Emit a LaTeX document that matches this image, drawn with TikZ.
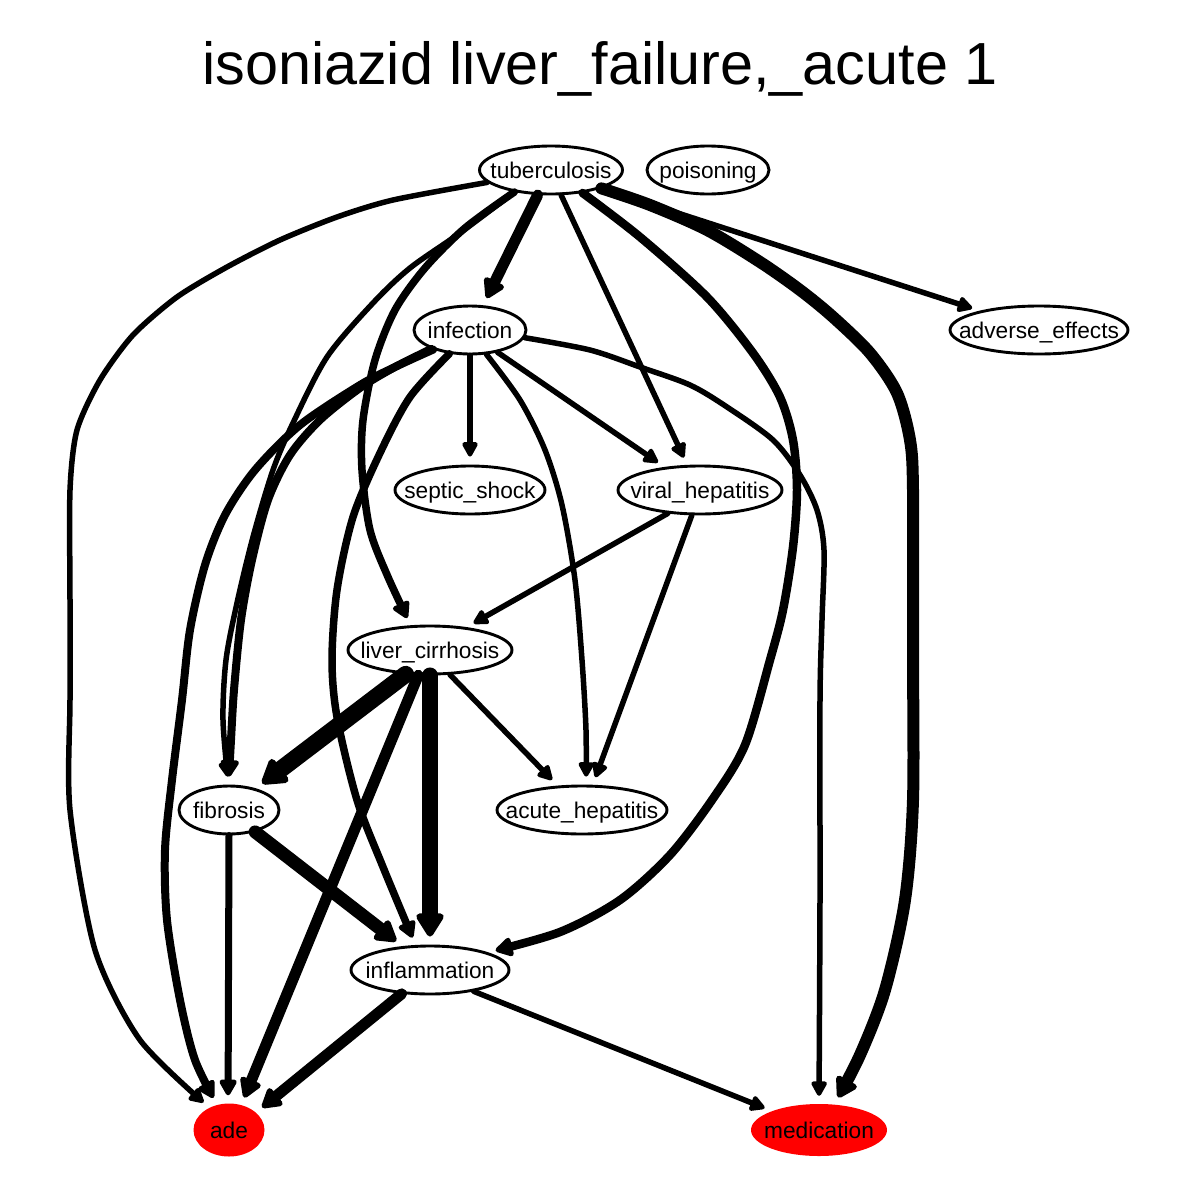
\documentclass[tikz,border=0pt]{standalone}
\usepackage{fontspec}
\setmainfont{Liberation Sans}
\usetikzlibrary{arrows.meta,shapes.geometric}
\begin{document}
\begin{tikzpicture}[x=1pt,y=-1pt,
  nd/.style={ellipse,draw,line width=2.9pt,inner sep=0pt,text height=18pt,text depth=2pt,
    font=\fontsize{22.7}{27}\selectfont},
  rednd/.style={ellipse,fill=red,inner sep=0pt,text height=18pt,text depth=2pt,
    font=\fontsize{22.7}{27}\selectfont},
  ed/.style={line width=#1,line cap=round,line join=round,shorten >=8pt,
    -{Triangle[length=12pt 0.9,width=10pt 1.3,round]}}]
\useasboundingbox[fill=white] (0,0) rectangle (1200,1200);
\node[font=\fontsize{59.4}{70}\selectfont,anchor=base,inner sep=0pt] (title) at (600,84) {isoniazid liver\_failure,\_acute 1};

\node[nd,minimum width=143pt,minimum height=48pt] (tub) at (551,170) {\makebox[0pt]{tuberculosis}};
\node[nd,minimum width=122pt,minimum height=48pt] (poi) at (708,170) {\makebox[0pt]{poisoning}};
\node[nd,minimum width=112pt,minimum height=48pt] (inf) at (470,330) {\makebox[0pt]{infection}};
\node[nd,minimum width=178pt,minimum height=48pt] (adv) at (1039,330) {\makebox[0pt]{adverse\_effects}};
\node[nd,minimum width=150pt,minimum height=48pt] (sep) at (470,490) {\makebox[0pt]{septic\_shock}};
\node[nd,minimum width=164pt,minimum height=48pt] (vir) at (700,490) {\makebox[0pt]{viral\_hepatitis}};
\node[nd,minimum width=164pt,minimum height=48pt] (liv) at (430,650) {\makebox[0pt]{liver\_cirrhosis}};
\node[nd,minimum width=100pt,minimum height=48pt] (fib) at (229,810) {\makebox[0pt]{fibrosis}};
\node[nd,minimum width=170pt,minimum height=48pt] (acu) at (582,810) {\makebox[0pt]{acute\_hepatitis}};
\node[nd,minimum width=158pt,minimum height=48pt] (infl) at (430,970) {\makebox[0pt]{inflammation}};
\node[rednd,minimum width=71pt,minimum height=53pt] (ade) at (229,1130) {\makebox[0pt]{ade}};
\node[rednd,minimum width=136pt,minimum height=52pt] (med) at (819,1130) {\makebox[0pt]{medication}};

% tuberculosis
\draw[ed=5.5pt] plot[smooth,tension=0.45] coordinates {(tub.191) (393,200) (337,217) (280,240) (227,267) (177,297) (133,335) (100,380) (77,430) (70,490) (70,600) (70,700) (70,810) (95,950) (140,1040) (ade.131)};
\draw[ed=5.5pt] plot[smooth] coordinates {(tub.211) (460,233) (410,268) (373,303) (327,357) (293,423) (273,470) (253,537) (237,603) (226,660) (223,720) (fib.91)};
\draw[ed=7.5pt] plot[smooth] coordinates {(tub.211) (465,228) (425,268) (395,310) (375,360) (363,420) (362,470) (370,530) (388,577) (liv.128)};
\draw[ed=11pt] (tub.242) -- (inf.62);
\draw[ed=5.5pt] (tub.292) -- (vir.117);
\draw[ed=8.5pt] plot[smooth] coordinates {(tub.324) (640,237) (707,297) (753,353) (780,397) (793,440) (797,490) (793,547) (783,610) (770,660) (745,745) (712,800) (670,855) (620,900) (560,932) (infl.17)};
\draw[ed=12pt] plot[smooth] coordinates {(tub.340) (650,205) (707,230) (760,262) (800,290) (833,317) (870,353) (897,393) (910,440) (913,490) (913,650) (913,800) (905,900) (885,990) (860,1055) (med.59)};
\draw[ed=5.5pt] (tub.340) -- (adv.162);

% infection
\draw[ed=5.5pt] (inf.270) -- (sep.90);
\draw[ed=5.5pt] (inf.321) -- (vir.147);
\draw[ed=5.5pt] plot[smooth] coordinates {(inf.304) (520,400) (545,450) (562,505) (575,580) (582,660) (586,730) (acu.81)};
\draw[ed=5.5pt] plot[smooth] coordinates {(inf.352) (590,350) (640,367) (690,385) (727,407) (773,440) (800,475) (817,510) (824,550) (822,620) (820,700) (820,900) (med.90)};
\draw[ed=7.5pt] plot[smooth] coordinates {(inf.229) (410,397) (380,453) (353,517) (337,590) (332,660) (337,717) (357,800) (383,867) (infl.120)};
\draw[ed=8pt] plot[smooth] coordinates {(inf.206) (395,367) (360,388) (320,420) (290,455) (268,500) (252,560) (241,620) (234,690) (231,740) (fib.91)};
\draw[ed=8pt] plot[smooth] coordinates {(inf.208) (395,367) (360,385) (300,425) (255,470) (225,515) (205,565) (190,630) (182,700) (172,780) (165,850) (167,920) (180,1000) (195,1060) (ade.115)};

% viral hepatitis
\draw[ed=5.5pt] (vir.216) -- (liv.32);
\draw[ed=5.5pt] (vir.252) -- (acu.67);

% liver cirrhosis
\draw[ed=17pt] (liv.225) -- (fib.39);
\draw[ed=16pt] (liv.270) -- (infl.90);
\draw[ed=11pt] (liv.245) -- (ade.64);
\draw[ed=5.5pt] (liv.309) -- (acu.135);

% fibrosis
\draw[ed=7pt] (fib.270) -- (ade.92);
\draw[ed=13pt] (fib.320) -- (infl.139);

% inflammation
\draw[ed=11pt] (infl.220) -- (ade.33);
\draw[ed=5.5pt] (infl.334) -- (med.158);
\end{tikzpicture}
\end{document}
